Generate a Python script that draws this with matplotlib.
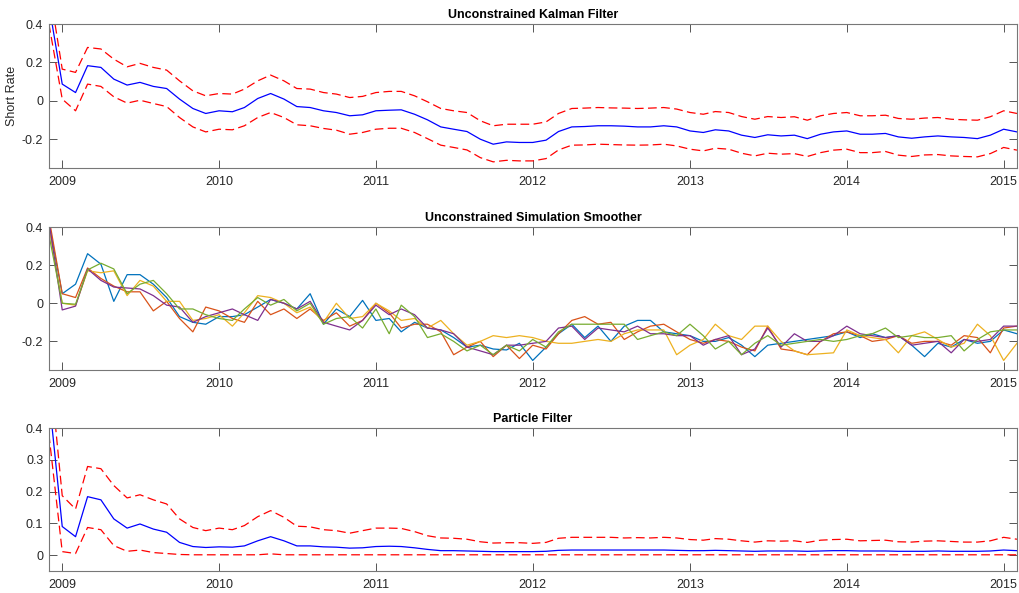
#----------------------------------------------------------------------------------------------------
# Make imports
#----------------------------------------------------------------------------------------------------
import datetime as dt
import pandas as pd
import matplotlib
matplotlib.use("Agg")
import matplotlib.pyplot as plt
import matplotlib.dates as mdates
from matplotlib.ticker import FormatStrFormatter

plt.rcParams["font.family"] = ["Liberation Sans", "DejaVu Sans"]
plt.rcParams["axes.unicode_minus"] = False

#----------------------------------------------------------------------------------------------------
# Data (monthly, Dec 2008 - Feb 2015)
#----------------------------------------------------------------------------------------------------
start_month = "2008-12-01"
n_months = 75

kf_mean = [0.50, 0.087, 0.043, 0.183, 0.174, 0.113, 0.082, 0.096, 0.075, 0.064, 0.009, -0.040, -0.066,
           -0.052, -0.057, -0.035, 0.012, 0.038, 0.009, -0.030, -0.035, -0.052, -0.061, -0.078, -0.073,
           -0.052, -0.049, -0.047, -0.070, -0.099, -0.136, -0.148, -0.160, -0.200, -0.226, -0.214, -0.217,
           -0.217, -0.205, -0.160, -0.136, -0.134, -0.130, -0.130, -0.132, -0.136, -0.136, -0.130, -0.136,
           -0.157, -0.165, -0.151, -0.157, -0.179, -0.191, -0.177, -0.183, -0.179, -0.197, -0.174, -0.162,
           -0.157, -0.174, -0.174, -0.170, -0.188, -0.195, -0.188, -0.183, -0.188, -0.191, -0.197, -0.179,
           -0.148, -0.162]
kf_upper = [0.60, 0.165, 0.148, 0.278, 0.270, 0.217, 0.177, 0.195, 0.174, 0.160, 0.104, 0.052, 0.026,
            0.038, 0.035, 0.061, 0.104, 0.134, 0.104, 0.064, 0.061, 0.043, 0.035, 0.017, 0.023,
            0.043, 0.049, 0.049, 0.026, -0.005, -0.040, -0.052, -0.061, -0.104, -0.130, -0.122, -0.122,
            -0.122, -0.110, -0.066, -0.040, -0.038, -0.035, -0.037, -0.038, -0.040, -0.038, -0.035, -0.043,
            -0.061, -0.070, -0.056, -0.061, -0.082, -0.096, -0.082, -0.087, -0.083, -0.101, -0.078, -0.066,
            -0.061, -0.078, -0.078, -0.075, -0.092, -0.096, -0.090, -0.087, -0.096, -0.099, -0.101, -0.083,
            -0.052, -0.066]
kf_lower = [0.40, 0.009, -0.052, 0.087, 0.075, 0.021, -0.012, 0.003, -0.014, -0.030, -0.087, -0.136, -0.162,
            -0.148, -0.151, -0.130, -0.087, -0.061, -0.087, -0.125, -0.130, -0.144, -0.153, -0.174, -0.165,
            -0.148, -0.143, -0.143, -0.165, -0.197, -0.231, -0.243, -0.256, -0.296, -0.318, -0.310, -0.313,
            -0.313, -0.301, -0.256, -0.231, -0.230, -0.226, -0.228, -0.230, -0.231, -0.230, -0.226, -0.235,
            -0.252, -0.261, -0.247, -0.252, -0.273, -0.287, -0.273, -0.278, -0.275, -0.290, -0.270, -0.257,
            -0.252, -0.270, -0.270, -0.264, -0.283, -0.290, -0.282, -0.280, -0.287, -0.290, -0.292, -0.275,
            -0.243, -0.257]

# five draws from the simulation smoother
sim_1 = [0.42, 0.05, 0.10, 0.26, 0.205, 0.01, 0.15, 0.15, 0.10, 0.03, -0.07, -0.10, -0.11,
         -0.07, -0.07, -0.06, -0.02, 0.02, 0.00, -0.03, 0.05, -0.11, -0.03, -0.07, 0.015,
         -0.09, -0.08, -0.15, -0.10, -0.13, -0.14, -0.18, -0.23, -0.22, -0.24, -0.245, -0.21,
         -0.30, -0.23, -0.16, -0.11, -0.18, -0.12, -0.20, -0.12, -0.09, -0.09, -0.15, -0.16,
         -0.17, -0.20, -0.20, -0.18, -0.22, -0.28, -0.22, -0.21, -0.20, -0.19, -0.18, -0.17,
         -0.15, -0.18, -0.16, -0.18, -0.17, -0.22, -0.28, -0.21, -0.23, -0.19, -0.21, -0.20,
         -0.14, -0.16]
sim_2 = [0.45, 0.05, 0.03, 0.185, 0.13, 0.09, 0.06, 0.06, -0.04, 0.01, -0.08, -0.15, -0.02,
         -0.04, -0.08, -0.10, 0.01, -0.06, -0.03, -0.08, -0.03, -0.09, -0.05, -0.12, -0.09,
         0.00, -0.05, -0.13, -0.11, -0.11, -0.15, -0.27, -0.23, -0.20, -0.28, -0.22, -0.29,
         -0.22, -0.24, -0.16, -0.09, -0.07, -0.11, -0.10, -0.19, -0.15, -0.12, -0.11, -0.15,
         -0.19, -0.21, -0.19, -0.20, -0.23, -0.25, -0.12, -0.24, -0.25, -0.27, -0.20, -0.16,
         -0.15, -0.17, -0.20, -0.19, -0.17, -0.21, -0.20, -0.20, -0.22, -0.17, -0.18, -0.26,
         -0.13, -0.12]
sim_3 = [0.40, 0.00, -0.01, 0.17, 0.16, 0.17, 0.04, 0.12, 0.09, 0.01, 0.01, -0.09, -0.08,
         -0.06, -0.12, -0.05, 0.04, 0.03, 0.00, -0.05, -0.02, -0.10, 0.00, -0.08, -0.07,
         0.00, -0.04, -0.09, -0.08, -0.13, -0.09, -0.16, -0.22, -0.20, -0.17, -0.18, -0.17,
         -0.18, -0.20, -0.21, -0.21, -0.20, -0.19, -0.20, -0.16, -0.14, -0.14, -0.14, -0.27,
         -0.22, -0.19, -0.11, -0.17, -0.19, -0.12, -0.12, -0.20, -0.25, -0.27, -0.265, -0.26,
         -0.14, -0.17, -0.18, -0.19, -0.26, -0.17, -0.15, -0.19, -0.23, -0.21, -0.11, -0.17,
         -0.30, -0.21]
sim_4 = [0.43, -0.035, -0.015, 0.18, 0.12, 0.085, 0.08, 0.075, 0.04, -0.01, -0.02, -0.10, -0.07,
         -0.05, -0.03, -0.06, -0.09, 0.02, 0.00, -0.03, 0.01, -0.10, -0.12, -0.14, -0.09,
         -0.01, -0.06, -0.03, -0.06, -0.13, -0.14, -0.16, -0.23, -0.25, -0.27, -0.22, -0.22,
         -0.21, -0.20, -0.13, -0.12, -0.19, -0.13, -0.14, -0.15, -0.12, -0.16, -0.16, -0.17,
         -0.17, -0.22, -0.19, -0.17, -0.27, -0.24, -0.13, -0.23, -0.16, -0.20, -0.20, -0.17,
         -0.12, -0.16, -0.17, -0.18, -0.17, -0.22, -0.21, -0.20, -0.26, -0.19, -0.20, -0.19,
         -0.12, -0.12]
sim_5 = [0.36, 0.00, -0.005, 0.175, 0.21, 0.18, 0.05, 0.10, 0.12, 0.05, -0.03, -0.03, -0.06,
         -0.08, -0.09, -0.03, 0.03, -0.01, 0.02, -0.04, 0.00, -0.11, -0.08, -0.07, -0.13,
         -0.03, -0.16, -0.01, -0.07, -0.18, -0.16, -0.20, -0.25, -0.22, -0.27, -0.22, -0.25,
         -0.19, -0.23, -0.15, -0.11, -0.11, -0.11, -0.11, -0.11, -0.19, -0.17, -0.15, -0.17,
         -0.11, -0.17, -0.24, -0.20, -0.27, -0.21, -0.17, -0.22, -0.21, -0.20, -0.19, -0.20,
         -0.19, -0.17, -0.16, -0.13, -0.18, -0.17, -0.18, -0.18, -0.17, -0.25, -0.19, -0.15,
         -0.14, -0.14]

pf_mean = [0.50, 0.090, 0.058, 0.184, 0.174, 0.114, 0.085, 0.098, 0.082, 0.072, 0.040, 0.027, 0.024,
           0.026, 0.025, 0.029, 0.045, 0.058, 0.045, 0.029, 0.029, 0.026, 0.025, 0.022, 0.023,
           0.027, 0.028, 0.027, 0.023, 0.018, 0.014, 0.014, 0.013, 0.012, 0.011, 0.011, 0.011,
           0.011, 0.012, 0.015, 0.016, 0.016, 0.016, 0.016, 0.016, 0.016, 0.016, 0.016, 0.015,
           0.014, 0.014, 0.015, 0.014, 0.013, 0.012, 0.013, 0.013, 0.013, 0.012, 0.013, 0.014,
           0.014, 0.013, 0.013, 0.013, 0.012, 0.012, 0.012, 0.013, 0.012, 0.012, 0.012, 0.013,
           0.016, 0.014]
pf_upper = [0.62, 0.187, 0.145, 0.279, 0.272, 0.219, 0.180, 0.190, 0.174, 0.161, 0.114, 0.087, 0.077,
            0.085, 0.080, 0.093, 0.121, 0.140, 0.119, 0.091, 0.089, 0.080, 0.077, 0.069, 0.077,
            0.085, 0.085, 0.084, 0.074, 0.061, 0.054, 0.053, 0.050, 0.042, 0.038, 0.039, 0.039,
            0.037, 0.040, 0.053, 0.056, 0.056, 0.056, 0.056, 0.054, 0.055, 0.054, 0.056, 0.054,
            0.049, 0.047, 0.052, 0.050, 0.045, 0.041, 0.045, 0.044, 0.045, 0.040, 0.047, 0.049,
            0.050, 0.045, 0.046, 0.047, 0.042, 0.041, 0.044, 0.045, 0.043, 0.041, 0.041, 0.045,
            0.056, 0.050]
pf_lower = [0.38, 0.011, 0.005, 0.087, 0.080, 0.030, 0.012, 0.016, 0.008, 0.005, 0.002, 0.001, 0.001,
            0.001, 0.001, 0.001, 0.001, 0.004, 0.001, 0.001, 0.001, 0.001, 0.001, 0.001, 0.001,
            0.001, 0.001, 0.001, 0.001, 0.001, 0.001, 0.001, 0.001, 0.001, 0.001, 0.001, 0.001,
            0.001, 0.001, 0.001, 0.001, 0.001, 0.001, 0.001, 0.001, 0.001, 0.001, 0.001, 0.001,
            0.001, 0.001, 0.001, 0.001, 0.001, 0.001, 0.001, 0.001, 0.001, 0.001, 0.001, 0.001,
            0.001, 0.001, 0.001, 0.001, 0.001, 0.001, 0.001, 0.001, 0.001, 0.001, 0.001, 0.001,
            0.001, 0.001]

dates = pd.date_range(start_month, periods=n_months, freq="MS")

#----------------------------------------------------------------------------------------------------
# Figure layout (MATLAB-ish look)
#----------------------------------------------------------------------------------------------------
sim_colors = ["#0072BD", "#D95319", "#EDB120", "#7E2F8E", "#77AC30"]
band_style = dict(color="red", linestyle=(0, (7, 3.5)), linewidth=0.9)
mean_style = dict(color="blue", linewidth=0.9)

fig = plt.figure(figsize=(10.19, 5.93), dpi=100)
ax1 = fig.add_axes([0.048, 0.7167, 0.950, 0.2428])
ax2 = fig.add_axes([0.048, 0.3761, 0.950, 0.2411])
ax3 = fig.add_axes([0.048, 0.0371, 0.950, 0.2411])

ax1.plot(dates, kf_upper, **band_style)
ax1.plot(dates, kf_lower, **band_style)
ax1.plot(dates, kf_mean, **mean_style)
ax1.set_title("Unconstrained Kalman Filter", fontsize=9, fontweight="bold", pad=4)
ax1.set_ylabel("Short Rate", fontsize=9, color="#262626", labelpad=3)
ax1.set_ylim(-0.35, 0.4)
ax1.set_yticks([-0.2, 0, 0.2, 0.4])

for sim, col in zip([sim_1, sim_2, sim_3, sim_4, sim_5], sim_colors):
    ax2.plot(dates, sim, color=col, linewidth=0.9)
ax2.set_title("Unconstrained Simulation Smoother", fontsize=9, fontweight="bold", pad=4)
ax2.set_ylim(-0.35, 0.4)
ax2.set_yticks([-0.2, 0, 0.2, 0.4])

ax3.plot(dates, pf_upper, **band_style)
ax3.plot(dates, pf_lower, **band_style)
ax3.plot(dates, pf_mean, **mean_style)
ax3.set_title("Particle Filter", fontsize=9, fontweight="bold", pad=4)
ax3.set_ylim(-0.05, 0.4)
ax3.set_yticks([0, 0.1, 0.2, 0.3, 0.4])

for ax in [ax1, ax2, ax3]:
    ax.set_xlim(dates[0], dates[-1])
    ax.xaxis.set_major_locator(mdates.YearLocator())
    ax.xaxis.set_major_formatter(mdates.DateFormatter("%Y"))
    ax.yaxis.set_major_formatter(FormatStrFormatter("%g"))
    ax.tick_params(direction="in", length=6, width=0.7, color="#555555", labelcolor="#262626",
                   labelsize=9, top=True, right=True, pad=4)
    ax.tick_params(axis="x", pad=6)
    for sp in ax.spines.values():
        sp.set_color("#777777")
        sp.set_linewidth(0.8)

fig.savefig("out.png", dpi=100)
